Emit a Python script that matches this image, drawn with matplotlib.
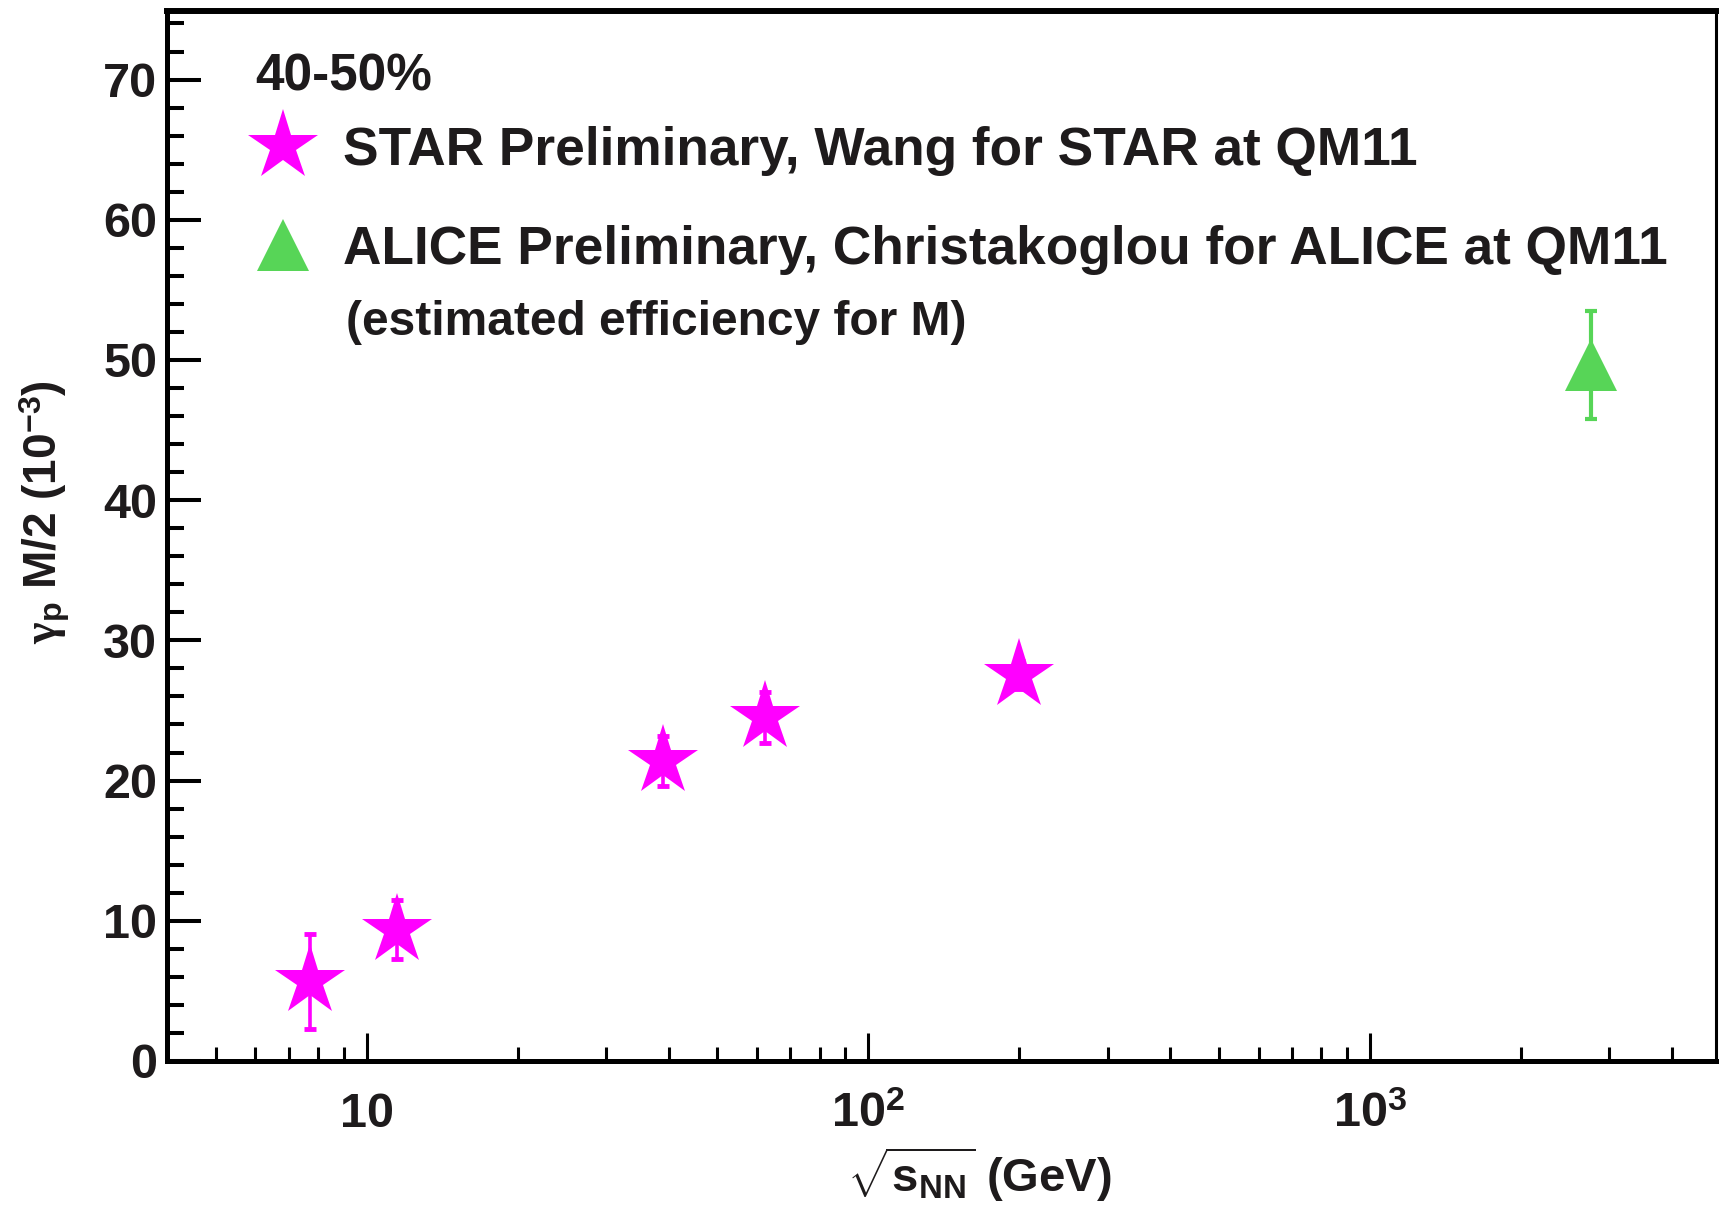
import numpy as np
import matplotlib
matplotlib.use("Agg")
import matplotlib.pyplot as plt
from matplotlib.ticker import FixedLocator, LogLocator, MultipleLocator, NullFormatter
from matplotlib.lines import Line2D

# 40-50% centrality, gamma_p * M / 2 vs collision energy
star_e = np.array([7.7, 11.5, 39.0, 62.4, 200.0])
star_g = np.array([5.67, 9.37, 21.4, 24.5, 27.5])
star_err = np.array([3.4, 2.1, 1.8, 1.8, 1.0])

alice_e = np.array([2760.0])
alice_g = np.array([49.65])
alice_err = np.array([3.85])

x_ticks = [10, 100, 1000]
x_tick_text = ["10", r"10$^{\mathbf{2}}$", r"10$^{\mathbf{3}}$"]
y_ticks = [0, 10, 20, 30, 40, 50, 60, 70]

MAG = "#ff00ff"
GRN = "#57d557"
INK = "#1e1b1c"

plt.rcParams["font.family"] = "Liberation Sans"
plt.rcParams["font.weight"] = "bold"
plt.rcParams["mathtext.fontset"] = "custom"
plt.rcParams["mathtext.bf"] = "Liberation Sans:bold"
plt.rcParams["mathtext.rm"] = "Liberation Serif"
plt.rcParams["mathtext.it"] = "Liberation Serif:italic"

fig = plt.figure(figsize=(17.19, 12.07), dpi=100)
ax = fig.add_axes([0.0971, 0.121, 0.9012, 0.870])

# error bars first, markers on top (kept separate so caps keep their thickness)
ax.errorbar(star_e, star_g, yerr=star_err, fmt="none", ecolor=MAG,
            elinewidth=2.6, capsize=4, capthick=3.5, zorder=3)
ax.errorbar(alice_e, alice_g, yerr=alice_err, fmt="none", ecolor=GRN,
            elinewidth=3.0, capsize=4.3, capthick=3.0, zorder=3)
ax.plot(star_e, star_g, ls="none", marker="*", ms=53, color=MAG,
        markeredgewidth=0, zorder=4)
ax.plot(alice_e, alice_g, ls="none", marker="^", ms=37.5, color=GRN,
        markeredgewidth=0, zorder=4)

ax.set_xscale("log")
ax.set_xlim(4.0, 4900)
ax.set_ylim(0, 74.9)

# axis frame
for side in ["left", "bottom"]:
    ax.spines[side].set_linewidth(3.6)
ax.spines["top"].set_linewidth(4.3)
ax.spines["right"].set_linewidth(2.2)
for s in ax.spines.values():
    s.set_color("black")

ax.yaxis.set_major_locator(FixedLocator(y_ticks))
ax.yaxis.set_minor_locator(MultipleLocator(2))
ax.xaxis.set_major_locator(FixedLocator(x_ticks))
ax.xaxis.set_minor_locator(LogLocator(base=10, subs=range(2, 10), numticks=20))
ax.xaxis.set_major_formatter(NullFormatter())
ax.xaxis.set_minor_formatter(NullFormatter())

ax.tick_params(axis="y", which="major", direction="in", length=24.5, width=2.9,
               labelsize=35, pad=7, labelcolor=INK, right=False)
ax.tick_params(axis="y", which="minor", direction="in", length=12, width=2.9, right=False)
ax.tick_params(axis="x", which="major", direction="in", length=20, width=2.2, top=False)
ax.tick_params(axis="x", which="minor", direction="in", length=10, width=2.2, top=False)
for lbl in ax.get_yticklabels():
    lbl.set_fontweight("bold")

# x tick labels on a common baseline
xt = ax.get_xaxis_transform()
for v, s in zip(x_ticks, x_tick_text):
    ax.text(v, -0.063, s, transform=xt, ha="center", va="baseline",
            fontsize=35, fontweight="bold", color=INK)

fig.text(0.026, 1 - 512 / 1207,
         r"$\mathrm{\gamma}_{\mathbf{p}}$ M/2 (10$^{\mathbf{-3}}$)",
         rotation=90, ha="center", va="center", fontsize=33, fontweight="bold", color=INK)
fig.text(0.570, 0.027, r"$\sqrt{\mathbf{s}_{\mathbf{NN}}}$ (GeV)",
         ha="center", va="center", fontsize=34, fontweight="bold", color=INK)

# legend
handles = [
    Line2D([], [], marker="*", ms=53, color=MAG, ls="none", markeredgewidth=0),
    Line2D([], [], marker="^", ms=37.5, color=GRN, ls="none", markeredgewidth=0),
]
labels = ["STAR Preliminary, Wang for STAR at QM11",
          "ALICE Preliminary, Christakoglou for ALICE at QM11"]
leg = ax.legend(handles, labels, loc="upper left", bbox_to_anchor=(0.058, 0.8905),
                frameon=False, fontsize=38.3, borderaxespad=0, borderpad=0,
                handlelength=1.0, handletextpad=0.62, labelspacing=0.92)
for t in leg.get_texts():
    t.set_color(INK)

ax.text(0.0567, 0.937, "40-50%", transform=ax.transAxes, fontsize=37,
        fontweight="bold", color=INK, va="center")
ax.text(0.1155, 0.703, "(estimated efficiency for M)", transform=ax.transAxes,
        fontsize=34.5, fontweight="bold", color=INK, va="center")

fig.savefig("out.png", dpi=100)
